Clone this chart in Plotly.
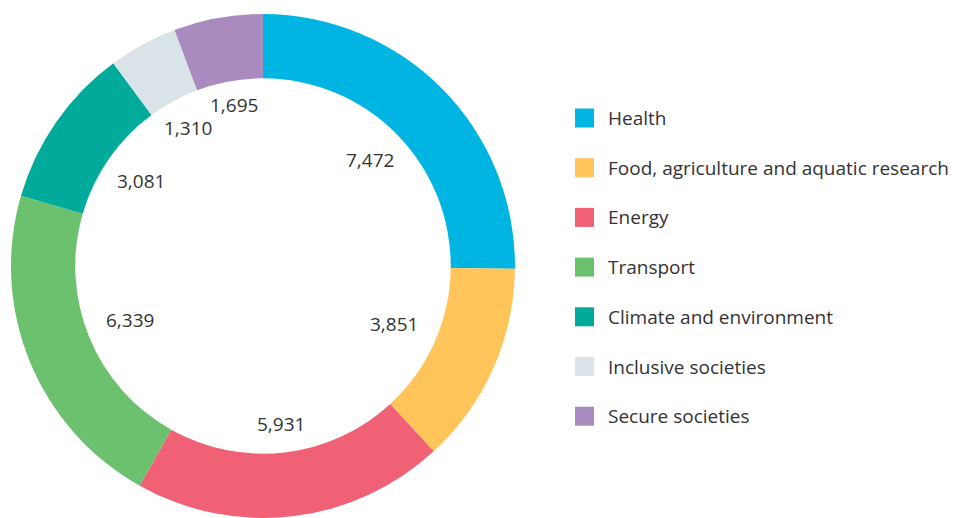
import math
import plotly.graph_objects as go

# Funding by research area
categories = [
    "Health",
    "Food, agriculture and aquatic research",
    "Energy",
    "Transport",
    "Climate and environment",
    "Inclusive societies",
    "Secure societies",
]
values = [7472, 3851, 5931, 6339, 3081, 1310, 1695]
colors = ["#00b5e2", "#ffc55a", "#f06176", "#6cc16e", "#00ab9b", "#d9e3e8", "#aa8bc0"]

W, H = 957, 518
FONT = "Open Sans, Noto Sans, sans-serif"
TEXT_COLOR = "#333333"
FS = 19

# donut geometry (pixels)
cx, cy, r_out = 263, 266, 252
hole = 0.745
r_in = r_out * hole

fig = go.Figure(
    go.Pie(
        labels=categories,
        values=values,
        marker=dict(colors=colors, line=dict(width=0)),
        hole=hole,
        sort=False,
        direction="clockwise",
        rotation=0,
        textinfo="none",
        hoverinfo="label+value",
        showlegend=False,
        domain=dict(
            x=[(cx - r_out) / W, (cx + r_out) / W],
            y=[(H - cy - r_out) / H, (H - cy + r_out) / H],
        ),
    )
)

# value labels inside the hole, along each slice's mid-angle
total = sum(values)
annotations = []
start = 0.0
for v in values:
    span = v / total * 360.0
    mid = math.radians(start + span / 2)
    ux, uy = math.sin(mid), -math.cos(mid)
    text = f"{v:,}"
    half_w = len(text) * 0.27 * FS
    half_h = 0.48 * FS
    extent = abs(ux) * half_w + abs(uy) * half_h
    # labels in the upper half sit a little closer to the ring
    rr = r_in - 17 - extent + 7 * max(0.0, -uy)
    px = cx + ux * rr
    py = cy + uy * rr
    annotations.append(dict(
        x=px / W, y=1 - py / H, xref="paper", yref="paper",
        text=text, showarrow=False, xanchor="center", yanchor="middle",
        font=dict(family=FONT, size=FS, color=TEXT_COLOR),
    ))
    start += span

# legend drawn as swatches and labels
shapes = []
leg_x0, leg_y0, leg_dy, sw = 575, 118, 49.7, 19
for i, (name, col) in enumerate(zip(categories, colors)):
    yc = leg_y0 + i * leg_dy
    shapes.append(dict(
        type="rect", xref="paper", yref="paper",
        x0=leg_x0 / W, x1=(leg_x0 + sw) / W,
        y0=1 - (yc + sw / 2) / H, y1=1 - (yc - sw / 2) / H,
        fillcolor=col, line=dict(width=0),
    ))
    annotations.append(dict(
        x=606 / W, y=1 - yc / H, xref="paper", yref="paper",
        text=name, showarrow=False, xanchor="left", yanchor="middle",
        font=dict(family=FONT, size=FS, color=TEXT_COLOR),
    ))

fig.update_layout(
    width=W, height=H,
    margin=dict(l=0, r=0, t=0, b=0),
    paper_bgcolor="white", plot_bgcolor="white",
    annotations=annotations, shapes=shapes,
    showlegend=False,
)

fig.write_html("out.html")
